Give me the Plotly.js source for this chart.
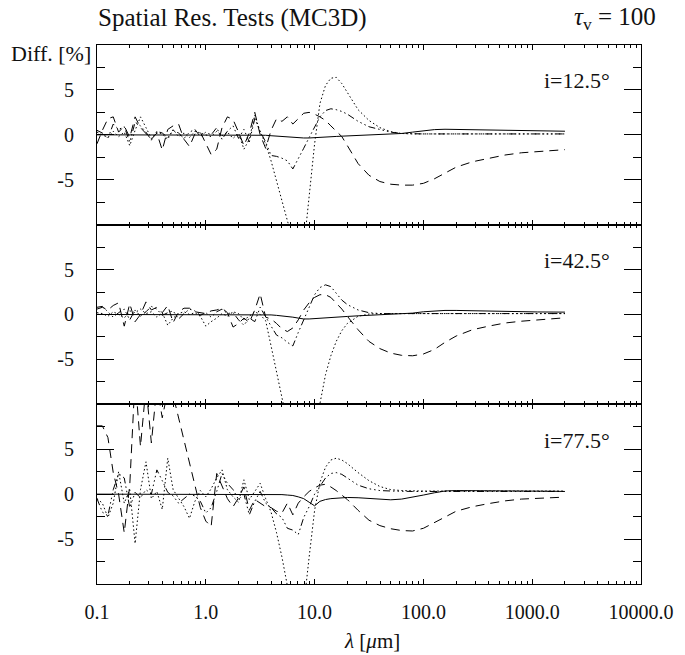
<!DOCTYPE html>
<html><head><meta charset="utf-8">
<script src="https://cdn.plot.ly/plotly-3.0.1.min.js"></script>
<style>html,body{margin:0;padding:0;background:#fff;} #chart{width:685px;height:655px;}</style>
</head><body><div id="chart"></div>
<script>
// wavelength grid [micron]
const wavelength = [0.1,0.112,0.126,0.141,0.158,0.178,0.2,0.224,0.251,0.282,0.316,0.355,0.398,0.447,0.501,0.562,0.631,0.708,0.794,0.891,1.0,1.12,1.26,1.41,1.58,1.78,2.0,2.24,2.51,2.82,3.16,3.55,3.98,4.47,5.01,5.62,6.31,7.08,7.94,8.91,10.0,11.2,12.6,14.1,15.8,17.8,20.0,25.1,31.6,39.8,50.1,63.1,79.4,100,126,158,200,282,398,562,794,1122,1585,2000];

// i = 12.5 deg
const solid_i12 = [0,0,0,0,0,0,0,0,0,0,0,0,0,0,0,0,0,0,0,0,0,0,0,0,0,0,0,0,0,0,0,-0.05,-0.1,-0.15,-0.2,-0.25,-0.3,-0.35,-0.35,-0.35,-0.3,-0.25,-0.22,-0.2,-0.18,-0.15,-0.12,-0.08,-0.03,0.02,0.08,0.15,0.3,0.45,0.58,0.62,0.6,0.55,0.5,0.47,0.44,0.42,0.4,0.4];
const dashed_i12 = [-1.0,0.5,1.8,2.0,0.3,1.0,-0.3,2.0,0.8,0.2,-0.5,0.2,-1.7,0.6,1.0,1.2,-0.5,-1.3,0.1,0.3,-1.0,-2.2,-1.6,0.8,2.0,1.7,0.3,-1.2,0.2,2.5,0.0,-1.5,0.5,1.8,1.5,2.0,1.2,1.8,2.4,2.5,2.3,2.0,1.6,1.0,0.4,-0.2,-1.2,-3.2,-4.5,-5.2,-5.5,-5.6,-5.6,-5.4,-4.9,-4.3,-3.6,-3.0,-2.6,-2.25,-2.0,-1.85,-1.7,-1.65];
const dotted_i12 = [0.3,0.0,-0.3,0.4,-0.2,0.3,-1.2,0.5,2.0,0.8,-0.4,0.3,0.1,-0.5,0.6,-0.2,0.2,-0.3,0.4,0.2,0.0,-0.2,0.4,-0.1,0.3,-0.4,0.2,-1.6,-0.5,2.2,0.3,-1.0,-2.9,-5.1,-7.3,-9.5,-12,-14,-12.7,-6.9,-1.0,3.5,5.5,6.3,6.4,5.7,4.7,2.8,1.6,0.8,0.35,0.15,0.1,0.1,0.1,0.1,0.1,0.1,0.1,0.1,0.1,0.1,0.1,0.1];
const dashdot_i12 = [0.5,0.2,-0.4,1.2,0.6,0.9,-0.8,1.4,1.0,0.3,-0.6,0.4,0.2,-0.3,0.5,0.2,-0.4,0.3,0.6,-0.2,0.3,0.0,0.8,-0.5,0.4,1.0,-0.4,0.6,-0.8,1.8,0.4,-0.8,-2.3,-2.4,-2.6,-2.9,-3.8,-2.7,-1.5,-0.3,0.8,2.0,2.7,2.9,2.8,2.6,2.3,1.5,0.9,0.6,0.3,0.15,0.1,0.1,0.1,0.1,0.1,0.1,0.1,0.1,0.1,0.1,0.1,0.1];

// i = 42.5 deg
const solid_i42 = [0,0,0,0,0,0,0,0,0,0,0,0,0,0,0,0,0,0,0,0,0,0,0,0,0,0,0,0,0,0,0,0,-0.05,-0.1,-0.15,-0.2,-0.3,-0.4,-0.5,-0.5,-0.45,-0.4,-0.35,-0.3,-0.28,-0.25,-0.22,-0.15,-0.1,-0.05,0.0,0.05,0.15,0.3,0.4,0.45,0.45,0.4,0.35,0.33,0.3,0.28,0.27,0.26];
const dashed_i42 = [0.6,0.8,0.5,1.0,1.3,-1.3,1.2,-0.8,0.0,1.4,0.5,0.8,0.2,1.0,-0.9,0.3,0.7,0.7,0.3,0.2,0.1,0.4,0.5,0.7,0.2,-1.4,-1.0,-0.4,-0.9,0.5,2.3,-0.3,-0.5,-1.0,-1.6,-1.9,-1.5,-0.6,0.5,1.3,1.9,2.2,2.2,1.9,1.3,0.6,-0.2,-1.7,-3.0,-3.8,-4.3,-4.55,-4.6,-4.4,-3.9,-3.1,-2.4,-1.7,-1.3,-0.95,-0.75,-0.6,-0.45,-0.37];
const dotted_i42 = [0.2,0.1,-0.2,0.3,0.0,-0.4,0.4,0.2,0.6,0.1,0.3,-0.3,0.2,-1.2,-0.4,0.1,0.3,0.0,0.2,-0.2,-1.3,-0.8,-0.4,0.1,-0.2,0.3,0.1,-0.6,-0.2,0.3,0.0,-0.7,-3.5,-6.5,-9.6,-12.5,-15,-15,-15,-15,-13,-10,-6.7,-4.6,-3.0,-1.8,-1.0,-0.2,0.05,0.1,0.1,0.1,0.1,0.1,0.1,0.1,0.1,0.1,0.1,0.1,0.1,0.1,0.1,0.1];
const dashdot_i42 = [0.8,0.9,0.3,-0.3,0.2,0.6,-0.6,0.5,-0.2,0.3,0.9,0.6,-0.1,0.2,0.4,-0.5,0.1,0.6,0.4,-0.1,0.2,-0.3,0.3,0.6,0.1,0.2,-0.6,-1.2,-0.4,-0.8,0.8,-0.3,-1.3,-2.3,-2.6,-3.1,-3.5,-2.0,-0.6,1.0,2.2,3.0,3.3,3.1,2.4,1.6,1.1,0.5,0.2,0.1,0.1,0.1,0.1,0.1,0.1,0.1,0.1,0.1,0.1,0.1,0.1,0.1,0.1,0.1];

// i = 77.5 deg
const solid_i77 = [0,0,0,0,0,0,0,0,0,0,0,0,0,0,0,0,0,0,0,0,0,0,0,0,0,0,0,0,0,0,0,0,0,0,-0.05,-0.1,-0.15,-0.3,-0.5,-0.9,-1.3,-0.8,-0.6,-0.5,-0.45,-0.4,-0.37,-0.4,-0.5,-0.6,-0.63,-0.55,-0.35,-0.1,0.15,0.35,0.4,0.4,0.38,0.36,0.35,0.33,0.32,0.3];
const dashed_i77 = [7.6,7.6,6.3,2.4,0.0,-4.3,1.0,13,5.3,12,5.7,12,8.5,11.5,11,8.5,5.9,3.3,0.7,-1.5,-3.0,-3.6,2.3,0.9,-0.5,-1.4,-0.4,0.8,-1.8,-0.6,-1.0,-1.4,-1.5,-1.9,-2.1,-1.0,-2.3,-1.0,-0.3,0.3,0.7,1.0,1.1,0.8,0.4,-0.1,-0.6,-1.8,-2.9,-3.5,-3.85,-4.05,-4.1,-3.8,-3.2,-2.55,-1.9,-1.4,-1.05,-0.75,-0.55,-0.45,-0.37,-0.33];
const dotted_i77 = [-0.5,-1.0,-2.6,-1.0,2.5,-1.0,0.5,-5.5,0.5,3.6,-0.5,0.3,-1.7,4.0,0.5,-0.4,-1.4,-2.7,-0.8,0.4,-0.3,0.6,1.8,2.7,0.5,-0.3,-0.9,1.6,-0.6,0.3,1.2,-0.5,-2.0,-4.3,-7.0,-10.2,-13,-14,-12.5,-7.0,-1.8,1.3,3.0,3.8,4.0,3.8,3.4,2.4,1.5,0.85,0.5,0.4,0.35,0.35,0.35,0.35,0.35,0.35,0.35,0.35,0.35,0.35,0.35,0.35];
const dashdot_i77 = [-0.5,-2.0,-2.4,0.5,2.3,1.8,-1.5,0.2,-0.4,0.5,0.0,2.7,1.5,0.2,-0.2,-1.0,-0.5,0.0,-0.2,-0.8,-2.1,-1.5,0.3,2.3,1.2,0.5,-0.6,0.0,-2.3,-0.8,0.3,-1.0,-1.5,-2.2,-2.6,-3.8,-4.0,-4.5,-2.6,-1.4,0.0,0.9,1.8,2.3,2.4,2.2,1.8,1.0,0.6,0.4,0.35,0.3,0.3,0.3,0.3,0.3,0.3,0.3,0.3,0.3,0.3,0.3,0.3,0.3];

const panelLabels = ['i=12.5°','i=42.5°','i=77.5°'];
const xTickValues = [0.1,1,10,100,1000,10000];
const xTickLabels = ['0.1','1.0','10.0','100.0','1000.0','10000.0'];
const yTickValues = [-5,0,5];
const yTickLabels = ['-5','0','5'];
const yMinorValues = [-7.5,-2.5,2.5,7.5];

const FONT = "'Liberation Serif', 'Times New Roman', Times, serif";
const xMinorValues = [];
[0.1,1,10,100,1000].forEach(d => { for (let m = 2; m <= 9; m++) xMinorValues.push(+(d*m).toPrecision(3)); });

const styles = {
  solid: 'solid',
  dashed: '9px,6px',
  dotted: '1.5px,2.5px',
  dashdot: '7px,3px,1.5px,3px,1.5px,3px,1.5px,3px'
};

const panels = [
  {ax:'3', data:{solid:solid_i12, dashed:dashed_i12, dotted:dotted_i12, dashdot:dashdot_i12}},
  {ax:'2', data:{solid:solid_i42, dashed:dashed_i42, dotted:dotted_i42, dashdot:dashdot_i42}},
  {ax:'',  data:{solid:solid_i77, dashed:dashed_i77, dotted:dotted_i77, dashdot:dashdot_i77}}
];

const traces = [];
panels.forEach(p => {
  ['solid','dashed','dotted','dashdot'].forEach(k => {
    traces.push({
      x: wavelength, y: p.data[k], type:'scatter', mode:'lines',
      xaxis:'x'+p.ax, yaxis:'y'+p.ax,
      line:{color:'#000', width:1, dash:styles[k]},
      showlegend:false, hoverinfo:'skip'
    });
  });
});

function xAxis(anchor, labels){
  return {
    type:'log', range:[-1,4], anchor:anchor,
    showline:true, linecolor:'#000', linewidth:1, mirror:'ticks',
    ticks:'inside', ticklen:5, tickwidth:1, tickcolor:'#000',
    tickmode:'array', tickvals:xTickValues, ticktext:xTickLabels,
    showticklabels:labels, ticklabelstandoff:10,
    tickfont:{family:FONT, size:20, color:'#111'},
    showgrid:false, zeroline:false,
    minor:{tickmode:'array', tickvals:xMinorValues, ticks:'inside', ticklen:3, tickwidth:1, tickcolor:'#000', showgrid:false}
  };
}
function yAxis(anchor, domain){
  return {
    range:[-10,10], anchor:anchor, domain:domain,
    showline:true, linecolor:'#000', linewidth:1, mirror:'ticks',
    ticks:'inside', ticklen:17, tickwidth:1, tickcolor:'#000',
    tickmode:'array', tickvals:yTickValues, ticktext:yTickLabels,
    ticklabelstandoff:18,
    tickfont:{family:FONT, size:20, color:'#111'},
    showgrid:false, zeroline:false,
    minor:{tickmode:'array', tickvals:yMinorValues, ticks:'inside', ticklen:8, tickwidth:1, tickcolor:'#000', showgrid:false}
  };
}

const ann = (text, x, y, xa, size) => ({text:text, x:x, y:y, xref:'paper', yref:'paper', xanchor:xa, yanchor:'middle', showarrow:false, font:{family:FONT, size:size, color:'#111'}});

const layout = {
  width:685, height:655,
  margin:{l:97, r:44, t:45, b:71},
  paper_bgcolor:'#fff', plot_bgcolor:'#fff',
  font:{family:FONT, color:'#111'},
  xaxis: xAxis('y', true),
  xaxis2: xAxis('y2', false),
  xaxis3: xAxis('y3', false),
  yaxis: yAxis('x', [0, 0.3334]),
  yaxis2: yAxis('x2', [0.3334, 0.6667]),
  yaxis3: yAxis('x3', [0.6667, 1]),
  annotations:[
    ann('Spatial Res. Tests (MC3D)', -0.002, 1.05, 'left', 25),
    ann('<i>τ</i><sub>v</sub> = 100', 1.031, 1.05, 'right', 25),
    ann('Diff. [%]', -0.007, 0.985, 'right', 22),
    ann(panelLabels[0], 0.818, 0.935, 'left', 22),
    ann(panelLabels[1], 0.818, 0.601, 'left', 22),
    ann(panelLabels[2], 0.818, 0.267, 'left', 22),
    ann('<i>λ</i> [<i>μ</i>m]', 0.505, -0.106, 'center', 21)
  ]
};

Plotly.newPlot('chart', traces, layout, {staticPlot:true, displayModeBar:false});
</script>
</body></html>
